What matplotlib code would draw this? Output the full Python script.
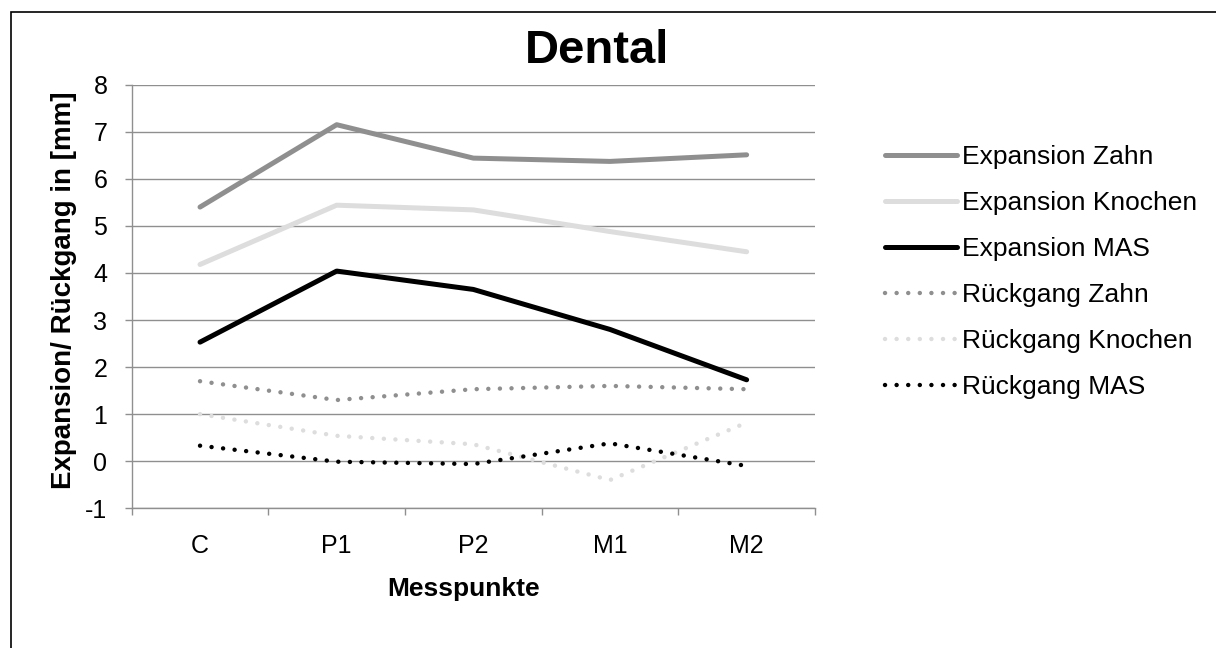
import matplotlib
matplotlib.use('Agg')
from matplotlib import pyplot as plt
from matplotlib.patches import Rectangle

plt.rcParams['font.family'] = ['Liberation Sans', 'DejaVu Sans']
plt.rcParams['axes.unicode_minus'] = False

# measuring points
punkte = ['C', 'P1', 'P2', 'M1', 'M2']

# values, in mm
exp_zahn = [5.40, 7.15, 6.44, 6.37, 6.51]
exp_knochen = [4.18, 5.44, 5.34, 4.88, 4.45]
exp_mas = [2.53, 4.04, 3.65, 2.80, 1.73]
rueck_zahn = [1.70, 1.30, 1.53, 1.60, 1.53]
rueck_knochen = [1.00, 0.54, 0.36, -0.40, 0.82]
rueck_mas = [0.33, -0.01, -0.06, 0.38, -0.10]

grau = '#8f8f8f'
hell = '#dddddd'
dots = (0, (0.01, 2.6))
fs = 18

fig = plt.figure(figsize=(12.16, 6.48), dpi=100)
ax = fig.add_axes([0.1083, 0.2156, 0.5619, 0.6537])

x = range(len(punkte))
ax.plot(x, exp_zahn, color=grau, lw=3.6, solid_capstyle='round', label='Expansion Zahn')
ax.plot(x, exp_knochen, color=hell, lw=3.6, solid_capstyle='round', label='Expansion Knochen')
ax.plot(x, exp_mas, color='black', lw=3.6, solid_capstyle='round', label='Expansion MAS')
ax.plot(x, rueck_zahn, color=grau, lw=3.2, ls=dots, dash_capstyle='round', label='Rückgang Zahn')
ax.plot(x, rueck_knochen, color=hell, lw=3.2, ls=dots, dash_capstyle='round', label='Rückgang Knochen')
ax.plot(x, rueck_mas, color='black', lw=3.2, ls=dots, dash_capstyle='round', label='Rückgang MAS')

ax.set_xlim(-0.5, 4.5)
ax.set_ylim(-1, 8)
ax.set_yticks(range(-1, 9))
ax.set_xticks([i - 0.5 for i in range(6)])
ax.set_xticklabels([])
ax.set_xticks(list(x), minor=True)
ax.set_xticklabels(punkte, minor=True)
ax.tick_params(axis='x', which='minor', length=0, pad=18.5, labelsize=fs)
ax.tick_params(axis='x', which='major', length=5, width=1, color=grau, direction='out')
ax.tick_params(axis='y', length=5, width=1, color=grau, direction='out', pad=12.5, labelsize=fs)

ax.grid(axis='y', color=grau, lw=1)
ax.set_axisbelow(True)
for s in ['top', 'right']:
    ax.spines[s].set_visible(False)
for s in ['left', 'bottom']:
    ax.spines[s].set_color(grau)
    ax.spines[s].set_linewidth(1)

ax.set_xlabel('Messpunkte', fontsize=19, fontweight='bold', labelpad=14)
ax.xaxis.label.set_x(0.4856)
ax.set_ylabel('Expansion/ Rückgang in [mm]', fontsize=20, fontweight='bold', labelpad=6)
ax.yaxis.label.set_y(0.515)
fig.text(597 / 1216, 1 - 63 / 648, 'Dental', fontsize=34, fontweight='bold',
         ha='center', va='baseline')

ax.legend(loc='upper left', bbox_to_anchor=(885 / 1216, 1 - 145.5 / 648),
          bbox_transform=fig.transFigure, frameon=False, fontsize=19,
          handlelength=2.73, handletextpad=0.2, labelspacing=0.83,
          borderpad=0, borderaxespad=0)

# chart border
fig.patches.append(Rectangle((11 / 1216, -0.1), 1.1, 1.1 - 12 / 648,
                             transform=fig.transFigure, fill=False, lw=1.2,
                             edgecolor='black'))

fig.savefig('out.png', dpi=100)
